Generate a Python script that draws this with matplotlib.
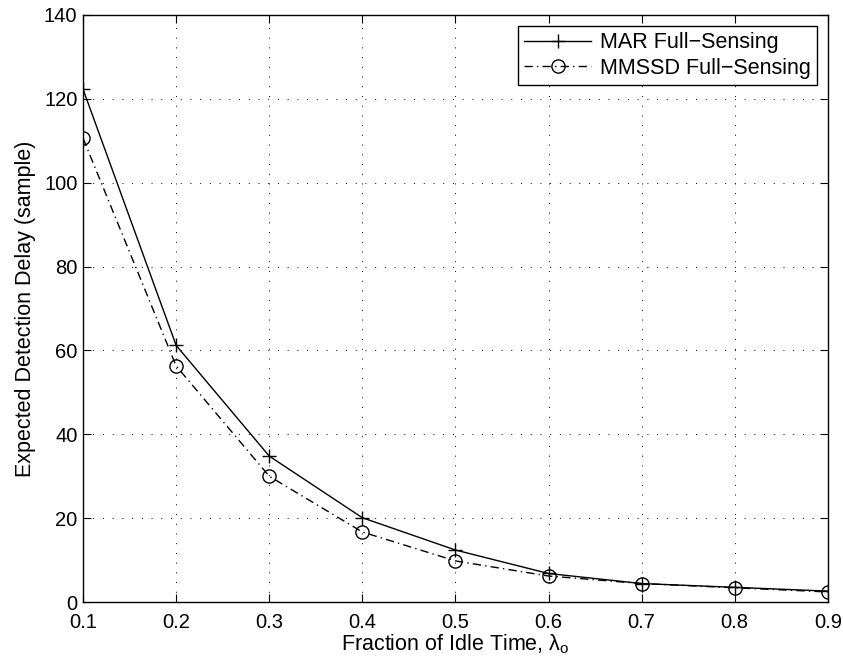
import matplotlib
matplotlib.use("Agg")
import matplotlib.pyplot as plt

x = [0.1, 0.2, 0.3, 0.4, 0.5, 0.6, 0.7, 0.8, 0.9]
mar = [122.3, 61.2, 34.8, 20.1, 12.4, 6.8, 4.4, 3.5, 2.6]
mmssd = [110.6, 56.3, 30.0, 16.7, 9.8, 6.2, 4.4, 3.4, 2.4]
xticks = [0.1, 0.2, 0.3, 0.4, 0.5, 0.6, 0.7, 0.8, 0.9]
yticks = [0, 20, 40, 60, 80, 100, 120, 140]

plt.rcParams['font.family'] = ['Liberation Sans', 'DejaVu Sans']
plt.rcParams['mathtext.fontset'] = 'custom'
plt.rcParams['mathtext.rm'] = 'Liberation Sans'
plt.rcParams['mathtext.it'] = 'Liberation Sans'

fig = plt.figure(figsize=(8.43, 6.57), dpi=100)
ax = fig.add_axes([0.0985, 0.0837, 0.8835, 0.8935])

ax.plot(x, mar, '-', color='black', lw=1.0, marker='+', markersize=10,
        markeredgewidth=1.0, label='MAR Full\u2212Sensing')
ax.plot(x, mmssd, linestyle=(0, (6, 3, 1, 3)), color='black', lw=1.0, marker='o',
        markersize=9.5, markerfacecolor='none', markeredgewidth=1.0,
        label='MMSSD Full\u2212Sensing')

ax.set_xlim(0.1, 0.9)
ax.set_ylim(0, 140)
ax.set_xticks(xticks)
ax.set_xticklabels([f"{v:.1f}" for v in xticks])
ax.set_yticks(yticks)
ax.grid(True, linestyle=(0, (1, 9)), color='black', lw=0.7)
ax.tick_params(direction='in', top=True, right=True, labelsize=14.5, length=6, width=0.8)
ax.tick_params(axis='x', pad=8)
ax.tick_params(axis='y', pad=4)
for s in ax.spines.values():
    s.set_linewidth(1.0)
ax.set_xlabel('Fraction of Idle Time, $\\lambda_o$', fontsize=15.5, labelpad=0.5)
ax.set_ylabel('Expected Detection Delay (sample)', fontsize=15.5, labelpad=6)

leg = ax.legend(loc='upper right', fontsize=15.5, fancybox=False, framealpha=1,
                edgecolor='black', borderaxespad=0.5, handlelength=3.1,
                handletextpad=0.4, borderpad=0.3, labelspacing=0.2)
leg.get_frame().set_linewidth(1.0)

fig.savefig('out.png', dpi=100)
